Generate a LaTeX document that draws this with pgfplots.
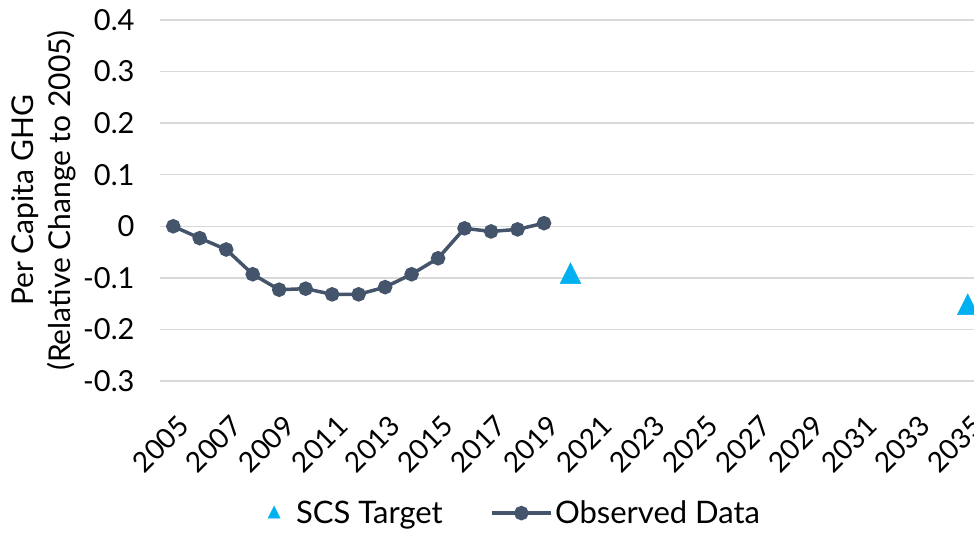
\documentclass[border=0pt]{standalone}
\usepackage{pgfplots}
\pgfplotsset{compat=1.18}
\usepackage{fontspec}
\setmainfont{Lato}
\usetikzlibrary{calc}

\definecolor{obsline}{HTML}{44546A}
\definecolor{target}{HTML}{00B0F0}
\definecolor{gridc}{HTML}{D9D9D9}

\begin{document}
\begin{tikzpicture}
  \begin{axis}[
      name=ax,
      scale only axis,
      width=821pt, height=361pt,
      xmin=2004.5, xmax=2035.5,
      ymin=-0.3, ymax=0.4,
      xtick={2005,2007,...,2035},
      ytick={-0.3,-0.2,-0.1,0,0.1,0.2,0.3,0.4},
      yticklabels={-0.3,-0.2,-0.1,0,0.1,0.2,0.3,0.4},
      /pgf/number format/1000 sep={},
      /pgf/number format/assume math mode=true,
      axis line style={draw=none},
      major tick length=0pt,
      ymajorgrids=true,
      grid style={gridc, line width=1.5pt},
      tick label style={font=\fontsize{29}{32}\selectfont},
      yticklabel style={xshift=-22pt},
      xticklabel style={xshift=3pt, yshift=-28pt, rotate=45, anchor=north east,
                        font=\fontsize{28}{32}\selectfont},
      ylabel={Per Capita GHG\\(Relative Change to 2005)},
      ylabel style={at={(axis description cs:-0.142,0.5)}, anchor=center,
                    align=center, font=\fontsize{30}{37}\selectfont},
      legend style={at={(axis description cs:0.4325,-0.366)}, anchor=center,
                    draw=none, fill=none, font=\fontsize{31}{34}\selectfont,
                    /tikz/every even column/.append style={column sep=45pt}},
      legend columns=2,
      legend cell align=left,
      clip=false,
    ]

    % SCS targets
    \addplot[only marks, mark=triangle*, mark size=12pt, color=target,
             mark options={yscale=1.15, yshift=-3.5pt},
             legend image code/.code={
                 \draw[draw=none, fill=none] (0pt,0pt) -- (20pt,0pt);
                 \draw[mark size=7pt] plot coordinates {(0pt,3pt)};}] coordinates {
        (2020,-0.090)
        (2035,-0.150)
    };
    \addlegendentry{SCS Target}

    % observed per capita change
    \addplot[color=obsline, line width=3.5pt, mark=*, mark size=5.5pt,
             legend image code/.code={\draw[mark repeat=2, mark phase=2]
                 plot coordinates {(0cm,0cm) (1.05cm,0cm) (2.1cm,0cm)};}] coordinates {
        (2005,0.000)
        (2006,-0.023)
        (2007,-0.045)
        (2008,-0.093)
        (2009,-0.123)
        (2010,-0.121)
        (2011,-0.132)
        (2012,-0.132)
        (2013,-0.118)
        (2014,-0.093)
        (2015,-0.062)
        (2016,-0.004)
        (2017,-0.010)
        (2018,-0.006)
        (2019,0.006)
    };
    \addlegendentry{Observed Data}

  \end{axis}
  \pgfresetboundingbox
  \path[use as bounding box] ($(ax.south west)+(-160pt,-152pt)$)
      rectangle ($(ax.north east)+(-7pt,20pt)$);
\end{tikzpicture}
\end{document}
